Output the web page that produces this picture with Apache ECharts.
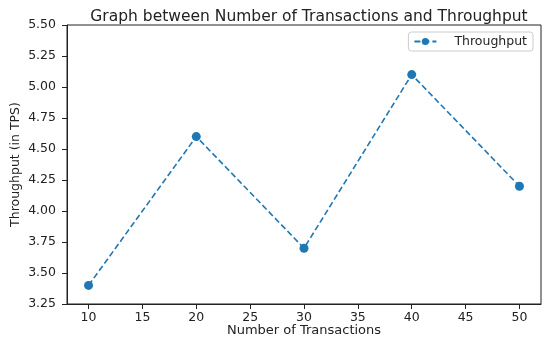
<!DOCTYPE html>
<html><head><meta charset="utf-8">
<script src="https://cdn.jsdelivr.net/npm/echarts@6/dist/echarts.min.js"></script>
<style>html,body{margin:0;padding:0;background:#fff}#c{width:550px;height:341px}</style>
</head><body><div id="c"></div>
<script>
const transactions = [10, 20, 30, 40, 50];
const throughput = [3.4, 4.6, 3.7, 5.1, 4.2];
const xTicks = [10, 15, 20, 25, 30, 35, 40, 45, 50];
const titleText = 'Graph between Number of Transactions and Throughput';
const xName = 'Number of Transactions';
const yName = 'Throughput (in TPS)';
const seriesName = 'Throughput';

const font = 'DejaVu Sans';
const chart = echarts.init(document.getElementById('c'));
chart.setOption({
  animation: false,
  title: {
    text: titleText, left: 304, top: 4, textAlign: 'center',
    textStyle: {fontFamily: font, fontSize: 15.5, fontWeight: 'normal', color: '#222'}
  },
  legend: {
    data: [seriesName], right: 17, top: 32,
    borderColor: '#ccc', borderWidth: 1, borderRadius: 3, padding: [3, 6, 3, 5],
    itemWidth: 22, itemHeight: 9,
    textStyle: {fontFamily: font, fontSize: 12.5, color: '#222', padding: [0, 0, 0, 13]}
  },
  grid: {left: 67, right: 9, top: 25, bottom: 37, outerBoundsMode: 'none', containLabel: false,
         show: true, borderColor: '#222', borderWidth: 1, backgroundColor: 'transparent'},
  xAxis: {
    type: 'value', min: 8, max: 52,
    name: xName, nameLocation: 'middle', nameGap: 20, nameMoveOverlap: false,
    nameTextStyle: {fontFamily: font, fontSize: 13, color: '#222'},
    axisLine: {show: true, lineStyle: {color: '#222'}},
    axisTick: {show: true, length: 5, lineStyle: {color: '#222'}, customValues: xTicks},
    axisLabel: {fontFamily: font, fontSize: 12.5, color: '#222', margin: 7, customValues: xTicks},
    splitLine: {show: false}
  },
  yAxis: {
    type: 'value', min: 3.25, max: 5.5, interval: 0.25,
    name: yName, nameLocation: 'middle', nameGap: 45, nameMoveOverlap: false,
    nameTextStyle: {fontFamily: font, fontSize: 12.5, color: '#222'},
    axisLine: {show: true, lineStyle: {color: '#222'}},
    axisTick: {show: true, length: 5, lineStyle: {color: '#222'}},
    axisLabel: {fontFamily: font, fontSize: 12.5, color: '#222', margin: 11, formatter: v => v.toFixed(2)},
    splitLine: {show: false}
  },
  series: [{
    name: seriesName, type: 'line',
    data: transactions.map((x, i) => [x, throughput[i]]),
    symbol: 'circle', symbolSize: 9,
    itemStyle: {color: '#1f77b4'},
    lineStyle: {color: '#1f77b4', width: 1.6, type: [6, 3]}
  }]
});
</script></body></html>
